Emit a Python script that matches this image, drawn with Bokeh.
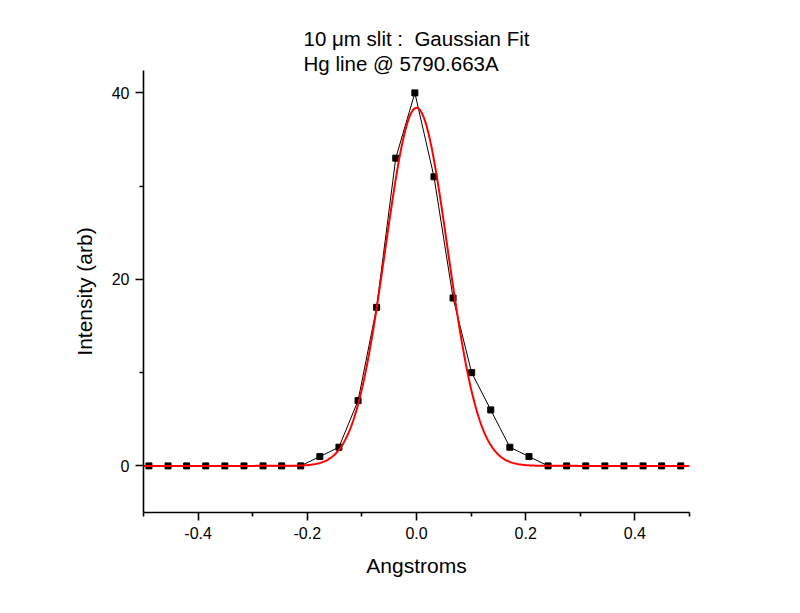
from bokeh.plotting import figure
from bokeh.models import FixedTicker, Range1d
from bokeh.embed import file_html
from bokeh.resources import INLINE
import numpy as np

# --- data ---
wavelength_offset = [-0.490, -0.455, -0.421, -0.386, -0.351, -0.316, -0.281, -0.247,
                     -0.212, -0.177, -0.142, -0.107, -0.073, -0.038, -0.003, 0.032,
                     0.067, 0.101, 0.136, 0.171, 0.206, 0.241, 0.275, 0.310,
                     0.345, 0.380, 0.415, 0.449, 0.484]
intensity = [0, 0, 0, 0, 0, 0, 0, 0, 0,
             1, 2, 7, 17, 33, 40, 31, 18, 10, 6, 2, 1,
             0, 0, 0, 0, 0, 0, 0, 0]

# Gaussian fit parameters
fit_y0 = 0.0
fit_amp = 38.4
fit_xc = 0.0
fit_sigma = 0.057

x_major_ticks = [-0.4, -0.2, 0.0, 0.2, 0.4]
x_major_labels = ["-0.4", "-0.2", "0.0", "0.2", "0.4"]
x_minor_ticks = [-0.5, -0.3, -0.1, 0.1, 0.3, 0.5]
y_major_ticks = [0, 20, 40]
y_minor_ticks = [10, 30]

title_line1 = "10 \u03bcm slit : \u00a0Gaussian Fit"
title_line2 = "Hg line @ 5790.663A"

FONT = "Liberation Sans"

p = figure(width=784, height=597, output_backend="svg", toolbar_location=None,
           x_range=Range1d(-0.5, 0.5), y_range=Range1d(-5, 42.4),
           min_border_left=143, min_border_right=95, min_border_top=70,
           min_border_bottom=85)
p.outline_line_color = None
p.xgrid.visible = False
p.ygrid.visible = False
p.background_fill_color = "white"
p.border_fill_color = "white"

p.title.text = title_line1 + "\n" + title_line2
p.title.align = "left"
p.title.offset = 160
p.title.standoff = -10
p.title.text_font = FONT
p.title.text_font_size = "20.5px"
p.title.text_font_style = "normal"
p.title.text_line_height = 1.1
p.title.text_color = "black"

fit_x = np.linspace(-0.5, 0.5, 600)
fit_y = fit_y0 + fit_amp * np.exp(-((fit_x - fit_xc) ** 2) / (2 * fit_sigma ** 2))

p.line(wavelength_offset, intensity, line_color="black", line_width=1)
p.scatter(wavelength_offset, intensity, marker="square", size=6,
          fill_color="black", line_color="black")
p.line(fit_x, fit_y, line_color="#FF0000", line_width=2)

for ax, majors, minors in ((p.xaxis[0], x_major_ticks, x_minor_ticks),
                           (p.yaxis[0], y_major_ticks, y_minor_ticks)):
    ax.ticker = FixedTicker(ticks=majors, minor_ticks=minors)
    ax.axis_line_width = 1.6
    ax.axis_line_color = "black"
    ax.major_tick_line_width = 1.6
    ax.minor_tick_line_width = 1.6
    ax.major_tick_out = 8
    ax.major_tick_in = 0
    ax.minor_tick_out = 4
    ax.minor_tick_in = 0
    ax.major_label_text_font = FONT
    ax.major_label_text_font_size = "16px"
    ax.major_label_text_color = "black"
    ax.axis_label_text_font = FONT
    ax.axis_label_text_font_size = "21px"
    ax.axis_label_text_font_style = "normal"
    ax.axis_label_text_color = "black"

p.xaxis[0].major_label_overrides = dict(zip(x_major_ticks, x_major_labels))
p.xaxis[0].axis_label = "Angstroms"
p.yaxis[0].axis_label = "Intensity (arb)"
p.xaxis[0].major_label_standoff = 6
p.xaxis[0].axis_label_standoff = 12
p.yaxis[0].major_label_standoff = 6
p.yaxis[0].axis_label_standoff = 13

open("out.html", "w").write(file_html(p, INLINE))
